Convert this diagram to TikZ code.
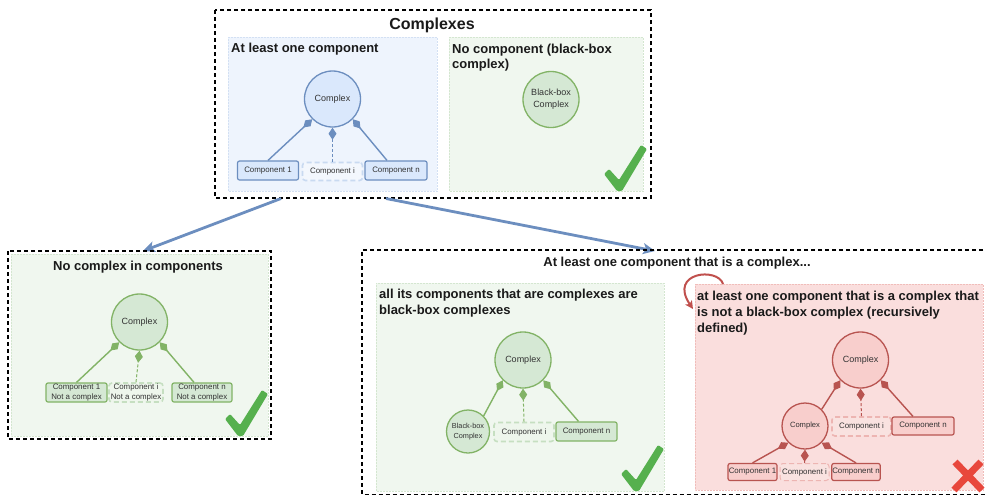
\documentclass[tikz,border=0pt]{standalone}
\usepackage{fontspec}
\setmainfont{Liberation Sans}
\usetikzlibrary{arrows.meta}

\definecolor{ink}{HTML}{1A1A1A}
\definecolor{nodeink}{HTML}{333333}
\definecolor{bluefill}{HTML}{DAE8FC}
\definecolor{bluestroke}{HTML}{6C8EBF}
\definecolor{bluepanel}{HTML}{EEF4FD}
\definecolor{bluepanelline}{HTML}{D3E0F3}
\definecolor{bluedash}{HTML}{C9DAF1}
\definecolor{bluedashfill}{HTML}{F3F7FD}
\definecolor{greenfill}{HTML}{D5E8D4}
\definecolor{greenstroke}{HTML}{82B366}
\definecolor{greenpanel}{HTML}{F0F7EF}
\definecolor{greenpanelline}{HTML}{D4E6D0}
\definecolor{greendash}{HTML}{C6DFC1}
\definecolor{greendashfill}{HTML}{EEF6EC}
\definecolor{redfill}{HTML}{F8CECC}
\definecolor{redstroke}{HTML}{B85450}
\definecolor{redpanel}{HTML}{FADEDD}
\definecolor{redpanelline}{HTML}{F0BDBA}
\definecolor{reddash}{HTML}{EDB5B2}
\definecolor{reddashfill}{HTML}{F9E2E0}
\definecolor{checkgreen}{HTML}{56B04E}
\definecolor{crossred}{HTML}{E8473C}
\definecolor{curvered}{HTML}{C0504D}

\tikzset{
  outerbox/.style={draw=black, line width=1.1pt, dash pattern=on 4pt off 3pt},
  panel/.style 2 args={draw=#1, fill=#2, line width=0.5pt, densely dotted},
  bigtitle/.style={font=\fontsize{16}{19}\selectfont\bfseries, text=ink, inner sep=0pt},
  paneltitle/.style={font=\fontsize{13}{16}\selectfont\bfseries, text=ink, inner sep=0pt},
  circ/.style 2 args={circle, draw=#1, fill=#2, line width=1.3pt, inner sep=0pt,
    text=nodeink, align=center},
  comp/.style 2 args={rectangle, rounded corners=2pt, draw=#1, fill=#2, line width=1.2pt,
    inner sep=0.5pt, text=nodeink, align=center, font=\fontsize{7.9}{9.5}\selectfont},
  dcomp/.style 2 args={comp={#1}{#2}, line width=1.6pt, rounded corners=3pt,
    dash pattern=on 5pt off 3pt},
  link/.style={draw=#1, line width=1.4pt, -{Diamond[length=12pt,width=8pt]}},
  dlink/.style={link=#1, line width=1pt, dash pattern=on 3pt off 2pt},
  bigarrow/.style={draw=bluestroke, line width=2.8pt,
    -{Stealth[length=12pt,width=11pt,inset=3pt]}},
  tick/.pic={\fill[checkgreen, rounded corners=1.2pt]
    (-10,-19) -- (0,-8) -- (22,-43) -- (28,-39) -- (3,3) -- (-2,3) -- (-15,-14) -- cycle;},
  cross/.pic={\draw[crossred, line width=7pt] (-13,-14) -- (14,14) (13,-14) -- (-14,14);}
}

\begin{document}
\begin{tikzpicture}[x=1pt,y=-1pt]
\useasboundingbox (0,0) rectangle (985,496);

% ---------- Complexes ----------
\draw[outerbox] (215,10) rectangle (651,198);
\node[bigtitle, anchor=base] (ttl) at (432,29) {Complexes};

% at least one component
\draw[panel={bluepanelline}{bluepanel}] (228,37) rectangle (437,191);
\node[paneltitle, anchor=base west] (tA) at (231,52) {At least one component};
\node[circ={bluestroke}{bluefill}, minimum size=56pt, font=\fontsize{9}{11}\selectfont]
  (b0) at (332.5,99) {Complex};
\node[comp={bluestroke}{bluefill}, minimum width=61pt, minimum height=19pt]
  (b1) at (268,170.5) {Component 1};
\node[dcomp={bluedash}{bluedashfill}, minimum width=60pt, minimum height=18pt]
  (bi) at (332.5,171.5) {Component i};
\node[comp={bluestroke}{bluefill}, minimum width=62pt, minimum height=19pt]
  (bn) at (396,170.5) {Component n};
\draw[link=bluestroke] (b1.north) -- (b0.south west);
\draw[dlink=bluestroke] (bi.north) -- (b0.south);
\draw[link=bluestroke] ([xshift=-9pt]bn.north) -- (b0.south east);

% no component
\draw[panel={greenpanelline}{greenpanel}] (449,37) rectangle (643,191);
\node[paneltitle, anchor=base west] (tB1) at (452,53) {No component (black-box};
\node[paneltitle, anchor=base west] (tB2) at (452,68) {complex)};
\node[circ={greenstroke}{greenfill}, minimum size=56pt, font=\fontsize{9}{12}\selectfont]
  (bb) at (551,99.5) {Black-box\\Complex};
\pic at (619,188) {tick};

% ---------- transitions ----------
\coordinate (fromL) at (281,198.5);
\coordinate (fromR) at (386,198.5);
\coordinate (toL) at (143,251);
\coordinate (toR) at (655,251);
\draw[bigarrow] (fromL) -- (toL);
\draw[bigarrow] (fromR) -- (toR);

% ---------- no complex in components ----------
\draw[outerbox] (8,251) rectangle (271,439);
\draw[panel={greenpanelline}{greenpanel}] (11,254) rectangle (268,436);
\node[paneltitle, anchor=base] (tC) at (138,270) {No complex in components};
\node[circ={greenstroke}{greenfill}, minimum size=56pt, font=\fontsize{9}{11}\selectfont]
  (g0) at (139.5,322) {Complex};
\node[comp={greenstroke}{greenfill}, minimum width=61pt, minimum height=19pt]
  (g1) at (76.5,392.5) {Component 1\\Not a complex};
\node[dcomp={greendash}{greendashfill}, minimum width=54pt, minimum height=19pt]
  (gi) at (136,392.5) {Component i\\Not a complex};
\node[comp={greenstroke}{greenfill}, minimum width=60pt, minimum height=19pt]
  (gn) at (202,392.5) {Component n\\Not a complex};
\draw[link=greenstroke] (g1.north) -- (g0.south west);
\draw[dlink=greenstroke] (gi.north) -- (g0.south);
\draw[link=greenstroke] ([xshift=-8pt]gn.north) -- (g0.south east);
\pic at (240,433) {tick};

% ---------- at least one component that is a complex ----------
\draw[outerbox] (990,250) -- (362,250) -- (362,494.5) -- (990,494.5);
\node[paneltitle, anchor=base] (tD) at (677,266) {At least one component that is a complex...};

% all component complexes are black-box
\draw[panel={greenpanelline}{greenpanel}] (376,283) rectangle (664,491);
\node[paneltitle, anchor=base west] (tE1) at (379,298) {all its components that are complexes are};
\node[paneltitle, anchor=base west] (tE2) at (379,314) {black-box complexes};
\node[circ={greenstroke}{greenfill}, minimum size=56pt, font=\fontsize{9}{11}\selectfont]
  (h0) at (523,360) {Complex};
\node[circ={greenstroke}{greenfill}, minimum size=43pt, font=\fontsize{7.3}{10}\selectfont]
  (hb) at (468,431.5) {Black-box\\Complex};
\node[dcomp={greendash}{greendashfill}, minimum width=60pt, minimum height=19pt]
  (hi) at (524,432) {Component i};
\node[comp={greenstroke}{greenfill}, minimum width=61pt, minimum height=19pt]
  (hn) at (586.5,431.5) {Component n};
\draw[link=greenstroke] (hb.north east) -- (h0.south west);
\draw[dlink=greenstroke] (hi.north) -- (h0.south);
\draw[link=greenstroke] ([xshift=-8pt]hn.north) -- (h0.south east);
\pic at (636,488) {tick};

% a component complex that is not black-box
\draw[panel={redpanelline}{redpanel}] (695,284) rectangle (983,490);
\node[paneltitle, anchor=base west] (tF1) at (697,300) {at least one component that is a complex that};
\node[paneltitle, anchor=base west] (tF2) at (697,316) {is not a black-box complex (recursively};
\node[paneltitle, anchor=base west] (tF3) at (697,332) {defined)};
\node[circ={redstroke}{redfill}, minimum size=56pt, font=\fontsize{9}{11}\selectfont]
  (r0) at (860.5,360) {Complex};
\node[circ={redstroke}{redfill}, minimum size=46pt, font=\fontsize{7.6}{9}\selectfont]
  (rc) at (805,426) {Complex};
\node[dcomp={reddash}{reddashfill}, minimum width=59pt, minimum height=19pt]
  (ri) at (861.5,426.5) {Component i};
\node[comp={redstroke}{redfill}, minimum width=62pt, minimum height=18pt]
  (rn) at (923,426) {Component n};
\node[comp={redstroke}{redfill}, minimum width=49pt, minimum height=17pt]
  (s1) at (752.5,472) {Component 1};
\node[dcomp={reddash}{reddashfill}, minimum width=49pt, minimum height=17pt, line width=1pt]
  (si) at (804.5,472) {Component i};
\node[comp={redstroke}{redfill}, minimum width=48pt, minimum height=17pt]
  (sn) at (856,472) {Component n};
\draw[link=redstroke] (rc.north east) -- (r0.south west);
\draw[dlink=redstroke] (ri.north) -- (r0.south);
\draw[link=redstroke] ([xshift=-10pt]rn.north) -- (r0.south east);
\draw[link=redstroke] (s1.north) -- (rc.south west);
\draw[dlink=redstroke] (si.north) -- (rc.south);
\draw[link=redstroke] (sn.north) -- (rc.south east);
\pic at (968,476) {cross};

% recursion hint
\coordinate (recA) at (723,284);
\coordinate (recB) at (693,309);
\draw[curvered, line width=2pt, -{Stealth[length=8pt,width=8pt,inset=2pt]}]
  (recA) .. controls (718,267) and (668,272) .. (recB);
\end{tikzpicture}
\end{document}
